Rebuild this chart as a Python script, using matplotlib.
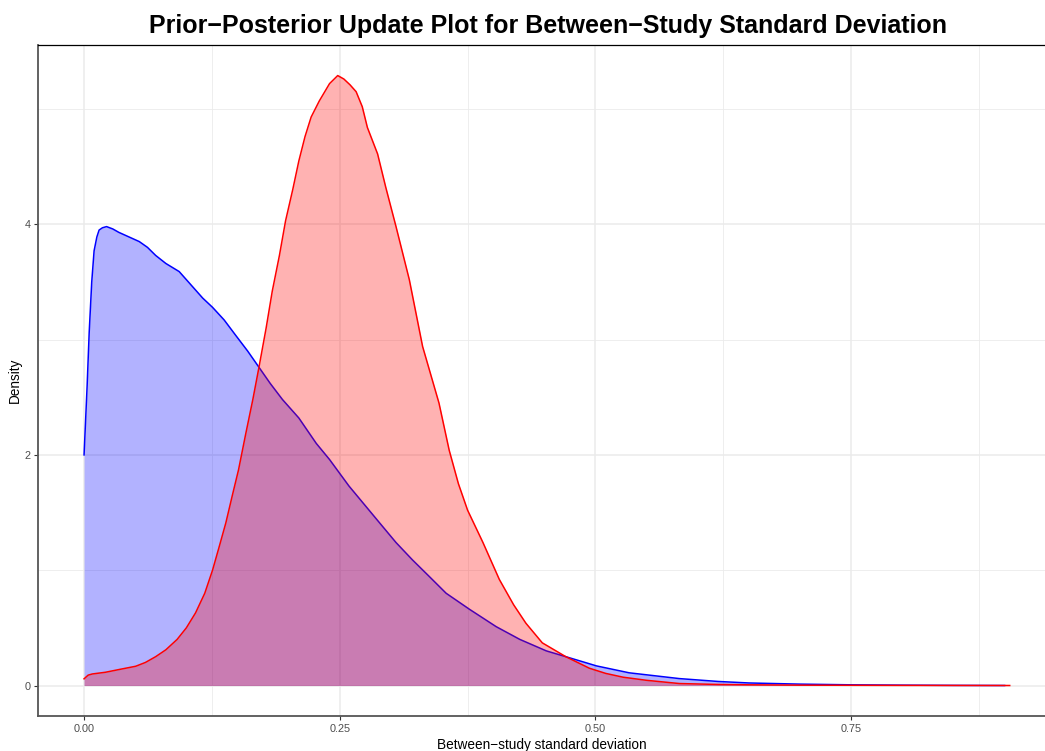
import matplotlib
matplotlib.use("Agg")
import matplotlib.pyplot as plt

plt.rcParams['font.family'] = ['Liberation Sans', 'DejaVu Sans']

# prior density (blue)
prior_x = [0, 0.003, 0.005, 0.0075, 0.0098, 0.0125, 0.0147, 0.018, 0.022, 0.028,
           0.034, 0.044, 0.054, 0.062, 0.070, 0.080, 0.093, 0.104, 0.116, 0.1256,
           0.137, 0.148, 0.160, 0.171, 0.182, 0.194, 0.210, 0.227, 0.240, 0.259,
           0.274, 0.289, 0.305, 0.321, 0.337, 0.354, 0.377, 0.403, 0.426, 0.452,
           0.471, 0.501, 0.533, 0.582, 0.62, 0.65, 0.70, 0.75, 0.80, 0.85, 0.90]
prior_y = [2.0, 2.6, 3.06, 3.5, 3.77, 3.89, 3.95, 3.97, 3.98, 3.96,
           3.93, 3.89, 3.85, 3.80, 3.73, 3.66, 3.59, 3.48, 3.36, 3.28,
           3.17, 3.04, 2.90, 2.76, 2.62, 2.48, 2.32, 2.10, 1.96, 1.73,
           1.57, 1.41, 1.24, 1.09, 0.95, 0.80, 0.66, 0.51, 0.40, 0.30,
           0.25, 0.17, 0.11, 0.06, 0.035, 0.022, 0.012, 0.006, 0.003, 0.001, 0.0]

# posterior density (red)
post_x = [0, 0.004, 0.008, 0.021, 0.035, 0.0505, 0.060, 0.070, 0.080, 0.091,
          0.100, 0.109, 0.118, 0.1256, 0.132, 0.1386, 0.145, 0.151, 0.158, 0.165,
          0.171, 0.178, 0.184, 0.191, 0.197, 0.204, 0.210, 0.216, 0.222, 0.230,
          0.240, 0.248, 0.254, 0.260, 0.266, 0.272, 0.277, 0.287, 0.295, 0.305,
          0.318, 0.331, 0.347, 0.357, 0.366, 0.375, 0.390, 0.406, 0.420, 0.432,
          0.448, 0.471, 0.494, 0.510, 0.527, 0.55, 0.582, 0.62, 0.65, 0.70,
          0.75, 0.80, 0.85, 0.905]
post_y = [0.058, 0.09, 0.10, 0.115, 0.14, 0.167, 0.20, 0.25, 0.31, 0.40,
          0.50, 0.63, 0.80, 1.00, 1.20, 1.41, 1.65, 1.87, 2.18, 2.48,
          2.76, 3.10, 3.42, 3.73, 4.03, 4.30, 4.55, 4.76, 4.93, 5.07,
          5.22, 5.29, 5.26, 5.21, 5.15, 5.02, 4.84, 4.61, 4.32, 3.98,
          3.52, 2.94, 2.45, 2.04, 1.75, 1.52, 1.24, 0.92, 0.70, 0.54,
          0.37, 0.25, 0.15, 0.105, 0.072, 0.045, 0.017, 0.009, 0.006, 0.003,
          0.002, 0.001, 0.0005, 0.0]

x_ticks = [0.0, 0.25, 0.5, 0.75]
x_labels = ['0.00', '0.25', '0.50', '0.75']
y_ticks = [0, 2, 4]

fig = plt.figure(figsize=(10.45, 7.51), dpi=100)
ax = fig.add_axes([0.0364, 0.0466, 0.9636, 0.8934])

ax.fill_between(prior_x, prior_y, 0, color='blue', alpha=0.3, lw=0, zorder=2)
ax.plot(prior_x, prior_y, color='blue', lw=1.1, zorder=3)
ax.fill_between(post_x, post_y, 0, color='red', alpha=0.3, lw=0, zorder=4)
ax.plot(post_x, post_y, color='red', lw=1.1, zorder=5)

ax.set_xlim(-0.045, 0.9395)
ax.set_ylim(-0.2645, 5.5545)

ax.set_xticks(x_ticks)
ax.set_xticklabels(x_labels)
ax.set_yticks(y_ticks)
ax.set_xticks([0.125, 0.375, 0.625, 0.875], minor=True)
ax.set_yticks([1, 3, 5], minor=True)
ax.grid(which='major', color='#EBEBEB', lw=1.1, zorder=0)
ax.grid(which='minor', color='#EBEBEB', lw=0.6, zorder=0)
ax.set_axisbelow(True)

ax.tick_params(which='major', length=3, width=0.8, color='#333333',
               labelsize=7.8, labelcolor='#4D4D4D', pad=2.5)
ax.tick_params(which='minor', length=0)

for s in ['left', 'bottom']:
    ax.spines[s].set_color('#555555')
    ax.spines[s].set_linewidth(1.3)
ax.spines['top'].set_color('black')
ax.spines['top'].set_linewidth(0.9)
ax.spines['right'].set_visible(False)

ax.set_xlabel('Between\u2212study standard deviation', fontsize=9.8, labelpad=3)
ax.set_ylabel('Density', fontsize=9.8, labelpad=2)
ax.set_title('Prior\u2212Posterior Update Plot for Between\u2212Study Standard Deviation',
             fontsize=18, fontweight='bold', pad=9, x=0.506)

fig.savefig('out.png', dpi=100)
